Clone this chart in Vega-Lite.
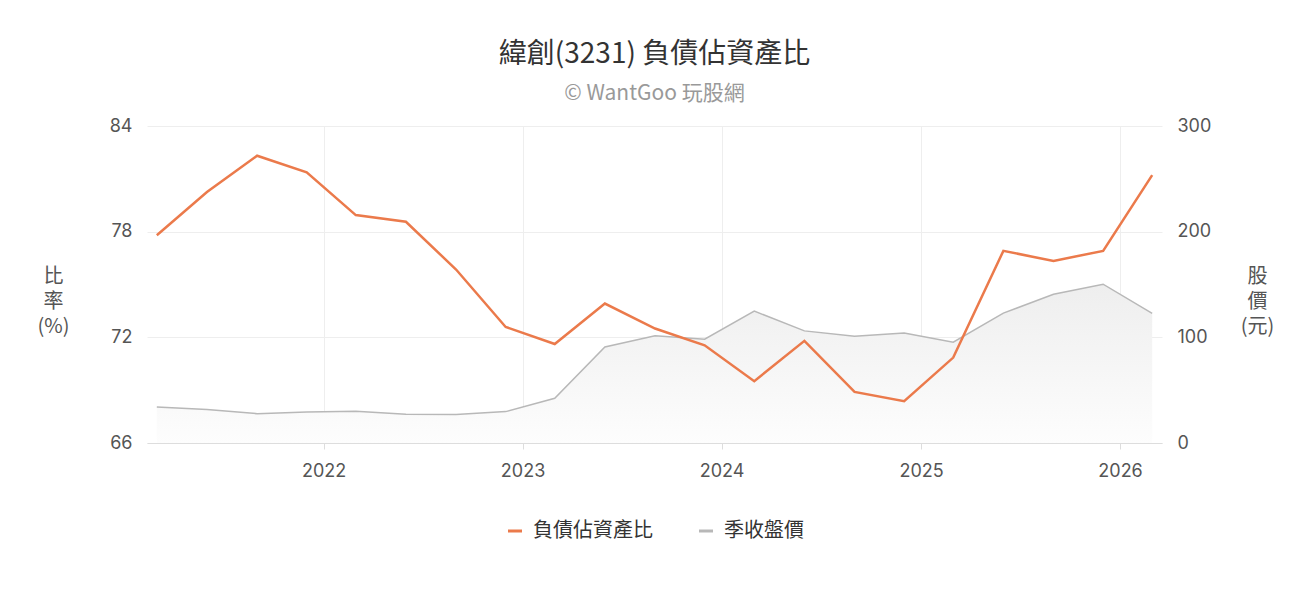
{
  "$schema": "https://vega.github.io/schema/vega-lite/v6.json",
  "width": 1015,
  "height": 317,
  "autosize": {"type": "none"},
  "padding": {"left": 147, "top": 126, "right": 150, "bottom": 153},
  "background": "white",
  "title": {
    "text": "緯創(3231) 負債佔資產比",
    "subtitle": "© WantGoo 玩股網",
    "font": "Noto Sans CJK TC",
    "subtitleFont": "Noto Sans CJK TC",
    "fontSize": 28,
    "subtitleFontSize": 21,
    "fontWeight": "normal",
    "color": "#333333",
    "subtitleColor": "#999999",
    "anchor": "middle",
    "frame": "group",
    "offset": 13,
    "subtitlePadding": 14
  },
  "config": {
    "view": {"stroke": null},
    "axis": {
      "labelFont": "Inter",
      "labelFontSize": 18,
      "labelColor": "#555555",
      "titleFont": "Noto Sans CJK TC",
      "titleFontSize": 20,
      "titleFontWeight": "normal",
      "titleColor": "#555555",
      "gridColor": "#EEEEEE"
    }
  },
  "data": {
    "values": [
      {"date": "2021-03-01", "ratio": 77.8, "price": 34.1},
      {"date": "2021-06-01", "ratio": 80.25, "price": 31.6},
      {"date": "2021-09-01", "ratio": 82.31, "price": 27.8},
      {"date": "2021-12-01", "ratio": 81.37, "price": 29.4},
      {"date": "2022-03-01", "ratio": 78.94, "price": 30.0},
      {"date": "2022-06-01", "ratio": 78.56, "price": 27.2},
      {"date": "2022-09-01", "ratio": 75.85, "price": 26.9},
      {"date": "2022-12-01", "ratio": 72.59, "price": 29.7},
      {"date": "2023-03-01", "ratio": 71.62, "price": 42.3},
      {"date": "2023-06-01", "ratio": 73.92, "price": 90.9},
      {"date": "2023-09-01", "ratio": 72.5, "price": 101.4},
      {"date": "2023-12-01", "ratio": 71.55, "price": 98.2},
      {"date": "2024-03-01", "ratio": 69.51, "price": 124.8},
      {"date": "2024-06-01", "ratio": 71.8, "price": 106.1},
      {"date": "2024-09-01", "ratio": 68.9, "price": 101.1},
      {"date": "2024-12-01", "ratio": 68.37, "price": 104.2},
      {"date": "2025-03-01", "ratio": 70.85, "price": 95.4},
      {"date": "2025-06-01", "ratio": 76.91, "price": 122.9},
      {"date": "2025-09-01", "ratio": 76.34, "price": 140.7},
      {"date": "2025-12-01", "ratio": 76.91, "price": 150.3},
      {"date": "2026-03-01", "ratio": 81.21, "price": 122.6}
    ]
  },
  "encoding": {
    "x": {
      "field": "date",
      "type": "temporal",
      "title": null,
      "scale": {
        "type": "utc",
        "nice": false,
        "domain": [
          {"year": 2021, "month": 2, "date": 11, "utc": true},
          {"year": 2026, "month": 3, "date": 19, "utc": true}
        ]
      },
      "axis": {
        "format": "%Y",
        "tickCount": {"interval": "year", "step": 1},
        "grid": true,
        "domainColor": "#DDDDDD",
        "tickColor": "#DDDDDD",
        "tickSize": 6,
        "labelPadding": 13
      }
    }
  },
  "layer": [
    {
      "encoding": {
        "y": {
          "field": "price",
          "type": "quantitative",
          "title": ["股", "價", "(元)"],
          "scale": {"domain": [0, 300], "nice": false},
          "axis": {
            "orient": "right",
            "values": [0, 100, 200, 300],
            "grid": false,
            "domain": false,
            "ticks": false,
            "labelPadding": 15,
            "titleAngle": 0,
            "titleX": 95,
            "titleY": 150,
            "titleBaseline": "middle",
            "titleAlign": "center",
            "titleLineHeight": 25
          }
        }
      },
      "layer": [
        {
          "mark": {
            "type": "area",
            "color": {
              "gradient": "linear",
              "x1": 0, "y1": 0, "x2": 0, "y2": 1,
              "stops": [
                {"offset": 0, "color": "#EEEEEE"},
                {"offset": 1, "color": "#FDFDFD"}
              ]
            }
          }
        },
        {
          "mark": {"type": "line", "strokeWidth": 1.5},
          "encoding": {"color": {"datum": "季收盤價"}}
        }
      ]
    },
    {
      "mark": {"type": "line", "strokeWidth": 2.5},
      "encoding": {
        "y": {
          "field": "ratio",
          "type": "quantitative",
          "title": ["比", "率", "(%)"],
          "scale": {"domain": [66, 84], "nice": false},
          "axis": {
            "orient": "left",
            "values": [66, 72, 78, 84],
            "grid": true,
            "domain": false,
            "ticks": false,
            "labelPadding": 15,
            "titleAngle": 0,
            "titleX": -94,
            "titleY": 150,
            "titleBaseline": "middle",
            "titleAlign": "center",
            "titleLineHeight": 25
          }
        },
        "color": {
          "datum": "負債佔資產比",
          "type": "nominal",
          "scale": {
            "domain": ["負債佔資產比", "季收盤價"],
            "range": ["#EB7A4B", "#B8B8B8"]
          },
          "legend": {
            "title": null,
            "orient": "none",
            "legendX": 358,
            "legendY": 395,
            "direction": "horizontal",
            "symbolType": "stroke",
            "symbolStrokeWidth": 3,
            "symbolSize": 196,
            "labelFont": "Noto Sans CJK TC",
            "labelFontSize": 20,
            "labelColor": "#333333",
            "labelOffset": 8,
            "columnPadding": 40
          }
        }
      }
    }
  ],
  "resolve": {"scale": {"y": "independent"}}
}
